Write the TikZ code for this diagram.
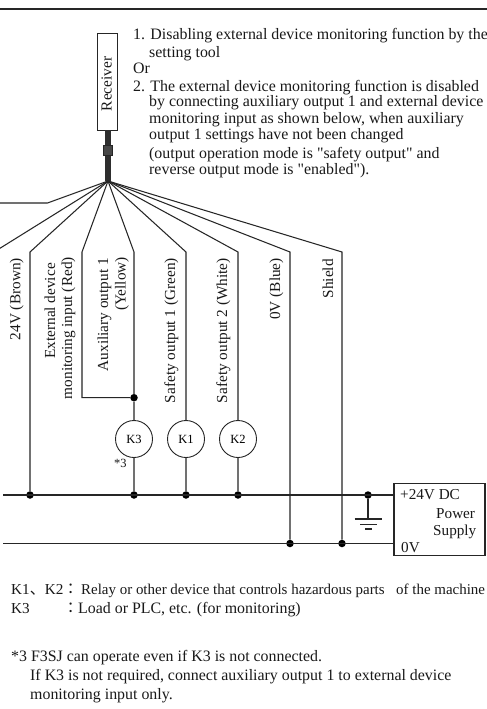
\documentclass[tikz,border=0pt]{standalone}
\usepackage{fontspec}
\setmainfont{Liberation Serif}
\newfontfamily\mainf{Liberation Serif}
\newfontfamily\cjkfont{Noto Sans CJK JP}
\begin{document}
\begin{tikzpicture}[x=1bp,y=-1bp,
  wire/.style={draw=black!85,line width=1.05bp,line join=miter},
  dotn/.style={circle,fill=black,inner sep=0pt,minimum size=7.5bp},
  relay/.style={circle,draw=black!85,line width=0.9bp,fill=white,minimum size=37bp,inner sep=0pt,font=\mainf\fontsize{12.5bp}{14bp}\selectfont},
  txt/.style={inner sep=0pt,anchor=base west,font=\mainf\fontsize{15.9bp}{18bp}\selectfont,text=black!90},
  txts/.style={txt,font=\mainf\fontsize{15.2bp}{18bp}\selectfont},
  vtxt/.style={inner sep=0pt,anchor=base east,rotate=90,font=\mainf\fontsize{15.3bp}{18bp}\selectfont,text=black!90},
  boxn/.style={draw=black!85,line width=1.05bp,fill=white,inner sep=0pt}]
\useasboundingbox (0,0) rectangle (487,709);
\clip (0,0) rectangle (487,709);
\fill[white] (0,0) rectangle (487,709);
\coordinate (ruleL) at (0,9); \coordinate (ruleR) at (487,9);
\draw[line width=1.05bp,draw=black!85] (ruleL) -- (ruleR);
% receiver
\coordinate (hub) at (108,181);
\node[boxn,minimum width=20.5bp,minimum height=96.5bp] (recv) at (107.7,81.8) {};
\node[vtxt,anchor=base] (recvt) at (111.5,84) {Receiver};
\coordinate (cabtop) at (108,130);
\draw[line width=5.5bp,draw=black!82] (cabtop) -- (hub);
\node[draw=black!85,fill=black!72,minimum width=8.5bp,minimum height=10bp,inner sep=0pt,line width=0.6bp] (conn) at (108,150) {};
% bends
\coordinate (bA) at (47.5,203); \coordinate (eA) at (0,203);
\coordinate (bB) at (-6,252);
\coordinate (b24) at (30,252);
\coordinate (bExt) at (82,252);
\coordinate (bAux) at (134,252);
\coordinate (bS1) at (186,252);
\coordinate (bS2) at (238,252);
\coordinate (b0V) at (290,252);
\coordinate (bSh) at (342,252);
% junctions
\node[dotn] (j24) at (30,495) {};
\node[dotn] (jAux) at (134,397.7) {};
\node[dotn] (jK3) at (134,495) {};
\node[dotn] (jK1) at (186,495) {};
\node[dotn] (jK2) at (238,495) {};
\node[dotn] (j0V) at (290,543.5) {};
\node[dotn] (jSh) at (342,543.5) {};
\node[dotn] (jG) at (368,495) {};
\coordinate (cExt) at (82,397.7);
\coordinate (busP) at (3,495); \coordinate (busN) at (3,543.5);
% power supply
\node[boxn,minimum width=91bp,minimum height=72.5bp] (ps) at (439.5,519.3) {};
\coordinate (psP) at (394,495); \coordinate (psN) at (394,543.5);
% wires
\draw[wire] (hub) -- (bA) -- (eA);
\draw[wire] (hub) -- (bB);
\draw[wire] (hub) -- (b24) -- (j24);
\draw[wire] (hub) -- (bExt) -- (cExt) -- (jAux);
\draw[wire] (hub) -- (bAux) -- (jAux) -- (jK3);
\draw[wire] (hub) -- (bS1) -- (jK1);
\draw[wire] (hub) -- (bS2) -- (jK2);
\draw[wire] (hub) -- (b0V) -- (j0V);
\draw[wire] (hub) -- (bSh) -- (jSh);
\draw[wire] (busP) -- (psP);
\draw[wire] (busN) -- (psN);
% relays
\node[relay] (k3) at (134,439) {K3};
\node[relay] (k1) at (186,439) {K1};
\node[relay] (k2) at (238,439) {K2};
% ground
\coordinate (g1) at (368,519);
\draw[wire] (jG) -- (g1);
\coordinate (g1a) at (354.5,519); \coordinate (g1b) at (382,519);
\coordinate (g2a) at (360,524.5); \coordinate (g2b) at (377,524.5);
\coordinate (g3a) at (365,529); \coordinate (g3b) at (372,529);
\draw[wire] (g1a) -- (g1b);
\draw[wire] (g2a) -- (g2b);
\draw[wire] (g3a) -- (g3b);
% vertical labels
\node[vtxt] (l24) at (20.3,258) {24V (Brown)};
\node[vtxt] (lExt1) at (55,263) {External device};
\node[vtxt] (lExt2) at (72,257) {monitoring input (Red)};
\node[vtxt] (lAux1) at (108,258) {Auxiliary output 1};
\node[vtxt] (lAux2) at (125.5,257) {(Yellow)};
\node[vtxt] (lS1) at (175,258) {Safety output 1 (Green)};
\node[vtxt] (lS2) at (227,258) {Safety output 2 (White)};
\node[vtxt] (l0V) at (280,258) {0V (Blue)};
\node[vtxt] (lSh) at (333,259) {Shield};
% top text
\node[txt] (t1) at (133,39.5) {1. Disabling external device monitoring function by the};
\node[txt] (t2) at (149,58) {setting tool};
\node[txt] (t3) at (133,74) {Or};
\node[txt] (t4) at (133,92) {2. The external device monitoring function is disabled};
\node[txt] (t5) at (149,107) {by connecting auxiliary output 1 and external device};
\node[txt] (t6) at (149,124) {monitoring input as shown below, when auxiliary};
\node[txt] (t7) at (149,140) {output 1 settings have not been changed};
\node[txt] (t8) at (149,158) {(output operation mode is "safety output" and};
\node[txt] (t9) at (149,174) {reverse output mode is "enabled").};
% star label
\node[txt,font=\mainf\fontsize{12.5bp}{14bp}\selectfont] (star) at (114,467) {*3};
% supply
\node[txts] (p1) at (400,499) {+24V DC};
\node[txts] (p2) at (436,518) {Power};
\node[txts] (p3) at (433,535) {Supply};
\node[txts] (p4) at (401,552) {0V};
% notes
\node[txts] (n1) at (11,594) {K1{\cjkfont 、}K2};
\node[txts] (n1c) at (63,594) {\cjkfont ：};
\node[txts,font=\mainf\fontsize{14.95bp}{18bp}\selectfont] (n1t) at (81,594) {Relay or other device that controls hazardous parts};
\node[txts,font=\mainf\fontsize{14.95bp}{18bp}\selectfont] (n1u) at (396,594) {of the machine};
\node[txts] (n2) at (11,613) {K3};
\node[txts] (n2c) at (63,613) {\cjkfont ：};
\node[txt] (n2t) at (78,613) {Load or PLC, etc. (for monitoring)};
\node[txt] (n3) at (11,661) {*3 F3SJ can operate even if K3 is not connected.};
\node[txt] (n4) at (30,680.5) {If K3 is not required, connect auxiliary output 1 to external device};
\node[txt] (n5) at (30,699) {monitoring input only.};
\end{tikzpicture}
\end{document}
